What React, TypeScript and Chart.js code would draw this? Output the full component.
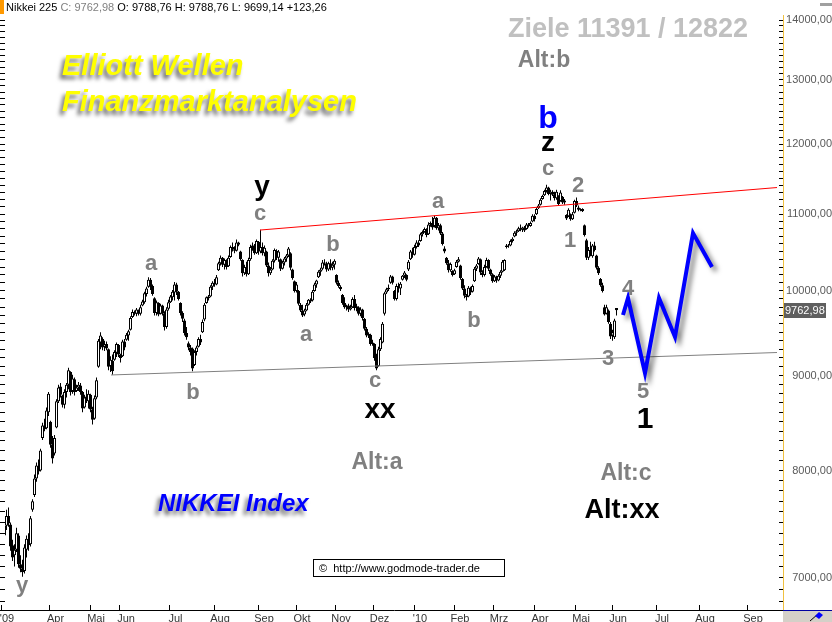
import React, { useEffect, useRef } from "react";
import { Chart, registerables } from "chart.js";

Chart.register(...registerables);

type C = [number, number, number, number]; // open, high, low, close

const mar09: C[] = [
  [7380,7500,7330,7470],[7470,7620,7430,7560],[7560,7640,7460,7490],[7480,7500,7240,7280],
  [7290,7340,7150,7180],[7200,7300,7100,7250],[7250,7450,7230,7400],[7380,7400,7090,7120],
  [7120,7200,7050,7080],[7080,7160,7010,7050],[7060,7300,7040,7270],[7250,7380,7180,7350],
  [7340,7400,7240,7290],[7300,7560,7280,7540],[7620,7720,7600,7700],[7760,7960,7740,7920],
  [7920,8080,7890,8050],[8040,8110,7960,7990],[8000,8220,7990,8200],[8330,8490,8310,8460],
  [8460,8530,8400,8420],[8430,8650,8420,8620],[8600,8820,8560,8800],
];
const apr09: C[] = [
  [8500,8510,8230,8260],[8260,8350,8070,8120],[8170,8360,8150,8330],[8440,8740,8430,8720],
  [8720,8900,8700,8870],[8880,8920,8760,8790],[8780,8790,8650,8680],[8680,8850,8640,8820],
  [8820,8920,8760,8900],[8900,9090,8850,9060],[9040,9050,8780,8820],[8830,9010,8800,8970],
  [8960,8980,8780,8820],[8830,8900,8820,8870],[8870,8930,8830,8900],[8890,8920,8790,8820],
  [8820,8830,8600,8640],[8650,8790,8640,8760],[8770,8850,8700,8720],[8720,8840,8640,8800],
  [8790,8800,8600,8630],
];
const may09: C[] = [
  [8630,8660,8470,8520],[8530,8780,8520,8750],[8760,8980,8740,8950],[9100,9420,9090,9400],
  [9380,9500,9300,9460],[9420,9440,9290,9320],[9330,9400,9280,9360],[9360,9390,9290,9310],
  [9300,9310,9060,9100],[9110,9220,9040,9180],[9170,9240,9010,9050],[9180,9290,9170,9270],
  [9260,9380,9210,9360],[9350,9360,9210,9240],[9240,9250,9150,9200],[9220,9410,9210,9390],
];
const jun09: C[] = [
  [9390,9420,9290,9320],[9410,9490,9400,9470],[9460,9530,9400,9510],[9530,9690,9520,9670],
  [9680,9770,9670,9740],[9740,9760,9700,9720],[9720,9790,9690,9770],[9760,9770,9700,9720],
  [9720,9830,9700,9800],[9820,9890,9810,9870],[9860,9990,9840,9970],[9960,10050,9930,10030],
  [10050,10170,10040,10140],[10140,10160,10010,10050],[10060,10080,9940,9960],[9910,9920,9700,9730],
  [9730,9880,9700,9860],[9850,9860,9690,9710],[9720,9840,9710,9820],[9820,9830,9700,9720],
  [9720,9750,9520,9560],[9560,9800,9540,9770],[9780,9890,9760,9860],[9860,9950,9850,9930],
];
const jul09: C[] = [
  [9920,10010,9880,9990],[9980,10110,9880,10080],[10080,10100,9950,9990],[9990,10000,9880,9900],
  [9850,9860,9700,9730],[9730,9750,9620,9660],[9640,9660,9460,9490],[9490,9560,9410,9440],
  [9370,9390,9290,9320],[9320,9350,9230,9270],[9310,9320,9050,9080],[9120,9290,9110,9270],
  [9270,9340,9230,9320],[9330,9440,9320,9420],[9420,9470,9350,9380],[9500,9650,9490,9620],
  [9650,9850,9630,9830],[9850,9930,9840,9920],[9910,9950,9880,9930],[9930,10070,9920,10050],
  [10050,10120,10010,10100],[10100,10150,10050,10080],
];
const aug09: C[] = [
  [10080,10200,10070,10170],[10260,10370,10250,10350],[10350,10450,10320,10420],[10420,10430,10300,10330],
  [10330,10410,10270,10390],[10390,10400,10270,10300],[10310,10450,10300,10420],[10430,10580,10420,10560],
  [10560,10620,10500,10530],[10530,10570,10480,10510],[10510,10660,10500,10620],[10620,10630,10570,10590],
  [10500,10510,10380,10400],[10390,10400,10180,10220],[10220,10330,10200,10300],[10300,10370,10180,10210],
  [10210,10420,10200,10390],[10400,10590,10380,10560],[10560,10620,10510,10580],[10580,10600,10460,10480],
  [10480,10660,10470,10640],[10630,10640,10460,10500],
];
const sep09: C[] = [
  [10500,10790,10480,10560],[10560,10620,10450,10480],[10480,10580,10440,10550],[10500,10510,10300,10320],
  [10320,10360,10180,10220],[10220,10300,10200,10270],[10270,10400,10260,10380],[10380,10540,10360,10520],
  [10510,10530,10390,10420],[10420,10520,10370,10500],[10400,10410,10250,10280],[10280,10380,10270,10360],
  [10360,10430,10320,10410],[10410,10470,10370,10450],[10450,10560,10430,10540],[10480,10490,10260,10290],
  [10270,10280,10140,10160],[10120,10130,9980,10000],
];
const oct09: C[] = [
  [10000,10110,9980,10080],[10000,10010,9820,9840],[9830,9850,9740,9760],[9760,9830,9680,9700],
  [9710,9780,9690,9760],[9760,9850,9750,9830],[9830,9900,9820,9890],[9890,9910,9850,9870],
  [9880,10010,9870,9990],[10000,10100,9990,10080],[10080,10140,10040,10130],[10170,10260,10160,10240],
  [10240,10290,10190,10270],[10280,10390,10260,10360],[10360,10400,10320,10350],[10350,10370,10240,10270],
  [10270,10370,10250,10350],[10350,10400,10260,10290],[10290,10370,10260,10330],[10330,10400,10270,10380],
];
const nov09: C[] = [
  [10200,10210,10080,10100],[10100,10130,10040,10060],[10050,10070,10000,10020],[9950,9960,9830,9850],
  [9850,9920,9780,9800],[9800,9830,9760,9820],[9820,9840,9740,9770],[9770,9830,9760,9800],
  [9800,9920,9790,9900],[9900,9950,9760,9790],[9790,9840,9750,9810],[9800,9810,9700,9720],
  [9720,9800,9690,9770],[9770,9780,9640,9670],[9660,9670,9520,9540],[9540,9560,9440,9460],
  [9460,9500,9430,9480],[9470,9480,9340,9360],[9360,9410,9340,9380],
];
const dec09: C[] = [
  [9360,9370,9170,9200],[9200,9250,9060,9080],[9110,9330,9100,9300],[9300,9440,9280,9420],
  [9380,9620,9370,9600],[9720,9990,9700,9970],[9980,10040,9960,10020],[10020,10080,10000,10040],
  [10100,10200,10090,10180],[10180,10190,10080,10100],[10000,10010,9880,9900],[9900,10090,9880,10060],
  [10060,10100,9980,10030],[10030,10110,9950,10090],[10140,10200,10130,10190],[10190,10250,10160,10230],
  [10200,10210,10120,10140],[10270,10390,10250,10370],[10400,10520,10390,10500],[10500,10550,10420,10460],
  [10460,10590,10450,10560],
];
const jan10: C[] = [
  [10560,10650,10540,10620],[10620,10650,10560,10580],[10640,10750,10630,10730],[10730,10780,10700,10760],
  [10760,10820,10750,10800],[10800,10810,10690,10720],[10730,10890,10720,10860],[10860,10900,10830,10880],
  [10880,10960,10790,10820],[10840,10980,10820,10950],[10950,10960,10790,10810],[10810,10880,10780,10850],
  [10850,10870,10720,10740],[10740,10760,10580,10600],[10540,10570,10480,10500],[10420,10430,10330,10350],
  [10350,10390,10230,10260],[10260,10360,10240,10340],[10250,10260,10180,10200],[10210,10280,10200,10260],
];
const feb10: C[] = [
  [10300,10390,10290,10370],[10370,10430,10360,10400],[10320,10330,10140,10160],[10150,10160,10010,10030],
  [10030,10070,9910,9940],[9940,9960,9880,9920],[9930,10060,9920,10040],[10040,10050,9950,9980],
  [9990,10080,9980,10060],[10120,10300,10110,10280],[10280,10340,10250,10320],[10340,10430,10330,10410],
  [10400,10410,10200,10230],[10230,10260,10170,10200],[10200,10330,10180,10300],[10300,10420,10290,10390],
  [10390,10400,10250,10280],[10270,10280,10190,10210],[10210,10220,10100,10120],
];
const mar10: C[] = [
  [10120,10200,10110,10180],[10180,10190,10100,10130],[10130,10210,10120,10190],[10190,10260,10160,10240],
  [10240,10390,10230,10370],[10260,10400,10250,10390],[10560,10600,10540,10580],[10580,10600,10550,10570],
  [10580,10660,10570,10640],[10640,10690,10620,10670],[10700,10770,10690,10750],[10750,10790,10710,10770],
  [10770,10830,10760,10810],[10810,10860,10770,10790],[10790,10830,10760,10820],[10820,10840,10760,10780],
  [10800,10880,10790,10860],[10860,10880,10820,10840],[10840,10900,10830,10880],[10900,11000,10890,10980],
  [10980,11000,10900,10930],
];
const apr10: C[] = [
  [11000,11090,10990,11070],[11080,11140,11070,11120],[11130,11220,11120,11200],[11210,11270,11200,11250],
  [11260,11340,11250,11320],[11320,11410,11300,11370],[11370,11380,11260,11280],[11280,11340,11190,11310],
  [11310,11330,11250,11270],[11270,11310,11190,11220],[11220,11340,11200,11310],[11250,11260,11120,11140],
  [11180,11330,11170,11300],[11240,11250,11140,11160],[11160,11210,11130,11190],[10990,11000,10920,10940],
  [10970,11080,10960,11060],[11000,11010,10910,10930],[10930,11030,10920,11000],[11020,11200,11010,11180],
];
const may10: C[] = [
  [11180,11230,11100,11120],[11090,11120,11040,11060],[11060,11080,11040,11070],[11070,11080,11030,11040],
  [10850,10860,10700,10720],[10650,10670,10390,10420],[10420,10560,10390,10520],[10520,10630,10440,10460],
  [10440,10600,10420,10580],[10580,10630,10500,10520],[10450,10460,10270,10290],[10290,10310,10200,10220],
  [10150,10160,10050,10070],[10070,10100,9980,10000],[9800,9830,9700,9710],[9720,9830,9710,9800],
  [9760,9770,9600,9620],[9600,9620,9420,9450],[9460,9530,9400,9500],
];
const jun10: C[] = [
  [9440,9660,9420,9640],[9788.76,9788.76,9699.14,9762.98],
];
const lastChange = 123.26;

// trend lines and projection (x = trading-day index, y = price)
const redLineIdx = [127.75, 386.25];
const redLinePrice = [10785, 11370];
const grayLineIdx = [53.25, 386.25];
const grayLinePrice = [9008, 9263];
const blueIdx = [309.25, 311.75, 320.25, 327.25, 335.25, 344.25, 353.75];
const bluePrice = [9705, 9912, 9030, 9912, 9444, 10745, 10302];

// axes
const yMajor = [7000, 8000, 9000, 10000, 11000, 12000, 13000, 14000];
const monthLabels = ["'09","Apr","Mai","Jun","Jul","Aug","Sep","Okt","Nov","Dez","'10","Feb","Mrz","Apr","Mai","Jun","Jul","Aug","Sep"];
const monthTickIdx = [-1.75,22.5,42.75,57.75,82.5,104.75,126.75,145.75,165.25,184.5,204.75,224.75,244.25,264.75,285.25,303.75,325.75,347.25,371.25];

// wave annotations (anchor at text baseline)
const waveText = ["y","c","a","b","y","a","b","c","xx","a","b","c","z","b","2","1","3","4","5","1","Alt:b","Ziele 11391 / 12822","Alt:a","Alt:c","Alt:xx"];
const waveIdx = [128.75,127.75,73.25,94.25,8.75,150.75,164.25,185.25,187.75,216.75,234.75,271.75,271.75,271.75,286.75,282.75,301.75,311.75,319.25,320.25,269.75,311.75,186.25,310.75,308.75];
const wavePrice = [11265,10920,10263,8744,6879,9396,10508,8874,8539,11085,9561,11549,11897,12242,11307,10560,9120,9949,8754,8434,13206,13708,8015,7906,7542];
const waveKind = ["blk","gry","gry","gry","gry","gry","gry","gry","blk","gry","gry","gry","blk","blu","gry","gry","gry","gry","gry","one","alt","zie","alt","alt","axx"];

const F = '"Liberation Sans", Arial, Helvetica, sans-serif';
const STY: Record<string, { font: string; color: string }> = {
  gry: { font: "bold 22px " + F, color: "#808080" },
  blk: { font: "bold 28px " + F, color: "#000000" },
  one: { font: "bold 30px " + F, color: "#000000" },
  blu: { font: "bold 32px " + F, color: "#0000ff" },
  alt: { font: "bold 23px " + F, color: "#808080" },
  axx: { font: "bold 27px " + F, color: "#000000" },
  zie: { font: "bold 27px " + F, color: "#c0c0c0" },
};

const candles: C[] = [
  ...mar09, ...apr09, ...may09, ...jun09, ...jul09, ...aug09, ...sep09, ...oct09,
  ...nov09, ...dec09, ...jan10, ...feb10, ...mar10, ...apr10, ...may10, ...jun10,
];

const fmt = (v: number) => v.toFixed(2).replace(".", ",");

const Y_MIN = 6727;
const Y_MAX = 14088;
const X_MIN = 0.25;
const X_MAX = 389.25;

function yTickValues() {
  const out: number[] = [];
  for (let v = 6800; v <= 14000; v += 100) out.push(v);
  return out;
}

const overlay = {
  id: "overlay",
  beforeDatasetDraw(chart: any, args: any) {
    if (args.index === 4) {
      const ctx = chart.ctx;
      ctx.save();
      ctx.shadowColor = "rgba(0,0,0,0.5)";
      ctx.shadowBlur = 5;
      ctx.shadowOffsetX = 4;
      ctx.shadowOffsetY = 4;
    }
  },
  afterDatasetDraw(chart: any, args: any) {
    if (args.index === 4) chart.ctx.restore();
  },
  afterDatasetsDraw(chart: any) {
    const ctx = chart.ctx;
    const xs = chart.scales.x;
    const ys = chart.scales.y;
    ctx.save();
    ctx.textAlign = "center";
    ctx.textBaseline = "alphabetic";
    waveText.forEach((t, k) => {
      const s = STY[waveKind[k]];
      ctx.font = s.font;
      ctx.fillStyle = s.color;
      ctx.fillText(t, xs.getPixelForValue(waveIdx[k]), ys.getPixelForValue(wavePrice[k]));
    });
    ctx.restore();
  },
  afterDraw(chart: any) {
    const ctx = chart.ctx;
    const ys = chart.scales.y;
    const last = candles[candles.length - 1];
    ctx.save();
    // header
    ctx.fillStyle = "#ff9900";
    ctx.fillRect(0, 0, 4, 14);
    ctx.font = "11px " + F;
    ctx.textAlign = "left";
    ctx.textBaseline = "alphabetic";
    const parts: [string, string][] = [
      ["Nikkei 225 ", "#000"],
      ["C: " + fmt(last[3]), "#808080"],
      [" O: " + fmt(last[0]) + " H: " + fmt(last[1]) + " L: " + fmt(last[2]) + " +" + fmt(lastChange), "#000"],
    ];
    let hx = 6;
    for (const [t, c] of parts) {
      ctx.fillStyle = c;
      ctx.fillText(t, hx, 11);
      hx += ctx.measureText(t).width;
    }
    ctx.fillStyle = "#a0a0a0";
    ctx.fillRect(820, 3, 12, 3);

    // titles with shadow
    ctx.shadowColor = "rgba(0,0,0,0.6)";
    ctx.shadowBlur = 4;
    ctx.shadowOffsetX = -3;
    ctx.shadowOffsetY = 4;
    ctx.font = "italic bold 29px " + F;
    ctx.fillStyle = "#ffff00";
    ctx.fillText("Elliott Wellen", 62, 75);
    ctx.fillText("Finanzmarktanalysen", 62, 111);
    ctx.font = "italic bold 24px " + F;
    ctx.fillStyle = "#0000ff";
    ctx.fillText("NIKKEI Index", 158, 511);
    ctx.shadowColor = "rgba(0,0,0,0)";
    ctx.shadowBlur = 0;
    ctx.shadowOffsetX = 0;
    ctx.shadowOffsetY = 0;

    // url box
    ctx.fillStyle = "#ffffff";
    ctx.fillRect(313, 559, 192, 18);
    ctx.strokeStyle = "#000";
    ctx.lineWidth = 1;
    ctx.strokeRect(313.5, 559.5, 191, 17);
    ctx.fillStyle = "#000";
    ctx.font = "11px " + F;
    ctx.fillText("\u00a9  http://www.godmode-trader.de", 319, 572);

    // last price box
    const py = ys.getPixelForValue(last[3]);
    ctx.fillStyle = "#5f5f5f";
    ctx.fillRect(784, Math.round(py) - 7, 42, 15);
    ctx.fillStyle = "#ffffff";
    ctx.fillText(fmt(last[3]).replace(/(\d+),(\d+)/, "$1,$2"), 785, Math.round(py) + 4);

    // axis line on left strip
    ctx.fillStyle = "#000";
    ctx.fillRect(0, 610, 5, 1);

    // corner box
    ctx.fillStyle = "#d4d0c8";
    ctx.fillRect(783, 611, 49, 11);
    ctx.fillStyle = "#0000a0";
    ctx.fillRect(783, 610, 49, 1);
    ctx.strokeStyle = "#000";
    ctx.beginPath();
    ctx.moveTo(810, 621);
    ctx.lineTo(818, 614);
    ctx.stroke();
    ctx.fillStyle = "#0000ff";
    ctx.beginPath();
    ctx.moveTo(815, 616);
    ctx.lineTo(819, 612);
    ctx.lineTo(823, 615);
    ctx.lineTo(819, 619);
    ctx.closePath();
    ctx.fill();
    ctx.restore();
  },
};

export default function App() {
  const ref = useRef<HTMLCanvasElement>(null);
  useEffect(() => {
    const canvas = ref.current;
    if (!canvas) return;
    const up = (i: number) => candles[i][3] >= candles[i][0];
    const wickData = candles.map((c, i) => ({ x: i, y: [c[2], c[1]] }));
    const bodyData = candles.map((c, i) => ({ x: i, y: [Math.min(c[0], c[3]), Math.max(c[0], c[3])] }));
    const yt = yTickValues();
    const yAxisCommon = {
      type: "logarithmic" as const,
      min: Y_MIN,
      max: Y_MAX,
      afterBuildTicks: (s: any) => {
        s.ticks = yt.map((v) => ({ value: v }));
      },
    };
    const chart = new Chart(canvas, {
      type: "bar",
      data: {
        datasets: [
          {
            type: "bar",
            data: wickData as any,
            backgroundColor: "#000",
            borderWidth: 0,
            barThickness: 1,
            grouped: false,
            inflateAmount: 0,
            order: 5,
          } as any,
          {
            type: "bar",
            data: bodyData as any,
            backgroundColor: (ctx: any) => (up(ctx.dataIndex) ? "#ffffff" : "#000000"),
            borderColor: "#000",
            borderWidth: 1,
            borderSkipped: false,
            barThickness: 3,
            grouped: false,
            inflateAmount: 0,
            order: 4,
          } as any,
          {
            type: "line",
            data: redLineIdx.map((x, k) => ({ x, y: redLinePrice[k] })),
            borderColor: "#ff0000",
            borderWidth: 1,
            pointRadius: 0,
            order: 3,
          } as any,
          {
            type: "line",
            data: grayLineIdx.map((x, k) => ({ x, y: grayLinePrice[k] })),
            borderColor: "#808080",
            borderWidth: 1,
            pointRadius: 0,
            order: 2,
          } as any,
          {
            type: "line",
            data: blueIdx.map((x, k) => ({ x, y: bluePrice[k] })),
            borderColor: "#0000ff",
            borderWidth: 4,
            borderJoinStyle: "miter",
            pointRadius: 0,
            tension: 0,
            order: 1,
          } as any,
        ],
      },
      options: {
        responsive: false,
        animation: false,
        devicePixelRatio: 1,
        layout: { padding: { top: 15, left: 0, right: 0, bottom: 0 } },
        plugins: { legend: { display: false }, tooltip: { enabled: false } },
        scales: {
          x: {
            type: "linear",
            position: "bottom",
            min: X_MIN,
            max: X_MAX,
            offset: false,
            afterBuildTicks: (s: any) => {
              s.ticks = monthTickIdx.map((v) => ({ value: v }));
            },
            afterFit: (s: any) => {
              s.height = 12;
              s.paddingLeft = 0;
              s.paddingRight = 0;
            },
            ticks: {
              autoSkip: false,
              maxRotation: 0,
              minRotation: 0,
              padding: 7,
              labelOffset: 6,
              color: "#333",
              font: { family: '"Liberation Sans Narrow", "Liberation Sans", Arial, sans-serif', size: 11 },
              callback: (_v: any, i: number) => monthLabels[i],
            },
            grid: { drawOnChartArea: false, offset: false, tickLength: -5, color: "#000" },
            border: { color: "#000", width: 1 },
          },
          y: {
            ...yAxisCommon,
            position: "right",
            afterFit: (s: any) => {
              s.width = 49;
              s.paddingTop = 0;
              s.paddingBottom = 0;
            },
            ticks: {
              autoSkip: false,
              padding: 7,
              crossAlign: "far",
              color: "#5a5a5a",
              font: { family: F, size: 11 },
              callback: (v: any) => (yMajor.includes(Number(v)) ? fmt(Number(v)) : ""),
            },
            grid: { drawOnChartArea: false, tickLength: -4, color: "#000" },
            border: { color: "#f0c040", width: 1 },
          },
          yl: {
            ...yAxisCommon,
            position: "left",
            afterFit: (s: any) => {
              s.width = 5;
              s.paddingTop = 0;
              s.paddingBottom = 0;
            },
            ticks: { display: false },
            grid: { drawOnChartArea: false, tickLength: 5, color: "#000" },
            border: { display: false },
          },
        } as any,
      },
      plugins: [overlay as any],
    });
    return () => chart.destroy();
  }, []);
  return (
    <div style={{ position: "absolute", left: 0, top: 0, width: 832, height: 622, background: "#fff" }}>
      <canvas ref={ref} width={832} height={622} style={{ display: "block", width: 832, height: 622 }} />
    </div>
  );
}
